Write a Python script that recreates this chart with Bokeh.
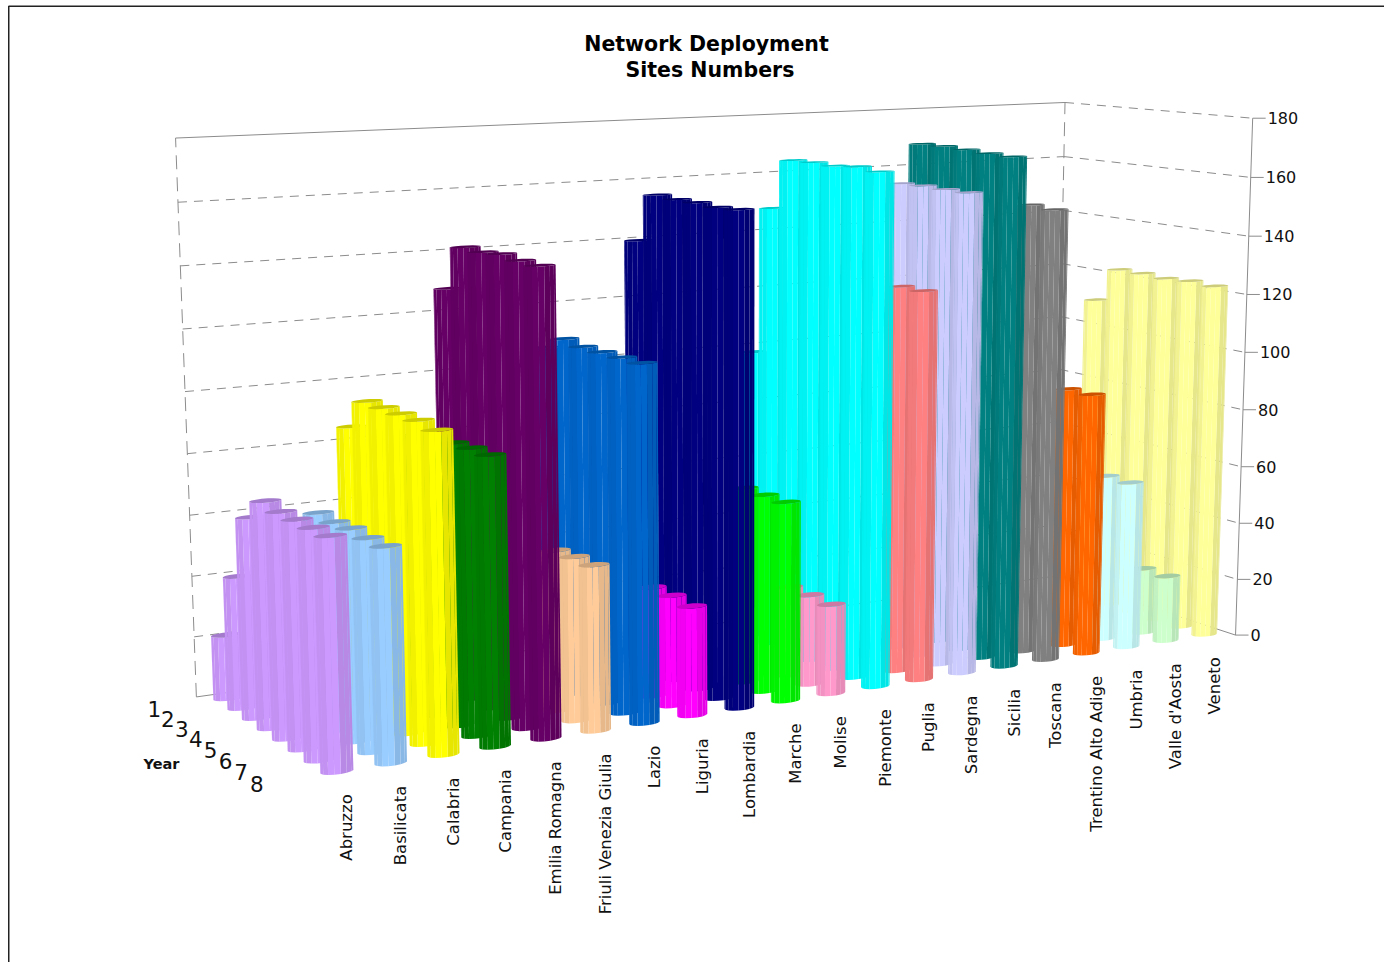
import math
import numpy as np
from bokeh.embed import file_html
from bokeh.resources import INLINE
from bokeh.plotting import figure
from bokeh.models import Range1d, ColumnDataSource
from bokeh.core.properties import value

# ---- data -------------------------------------------------------------
regions = ["Abruzzo", "Basilicata", "Calabria", "Campania", "Emilia Romagna",
           "Friuli Venezia Giulia", "Lazio", "Liguria", "Lombardia", "Marche",
           "Molise", "Piemonte", "Puglia", "Sardegna", "Sicilia", "Toscana",
           "Trentino Alto Adige", "Umbria", "Valle d'Aosta", "Veneto"]
years = [1, 2, 3, 4, 5, 6, 7, 8]
z_ticks = [0, 20, 40, 60, 80, 100, 120, 140, 160, 180]

abruzzo = [21, 43, 64.5, 72, 71, 71, 71, 71]
basilicata = [0, 0, 0, 66.5, 66, 66.5, 66, 66]
calabria = [0, 0, 90, 100, 100, 100, 100, 99]
campania = [0, 0, 0, 88, 89, 89.5, 90, 90]
emilia = [0, 0, 131.5, 146, 145.7, 146.4, 145.7, 145.5]
friuli = [0, 0, 0, 0, 0, 52, 52.5, 52.5]
lazio = [0, 0, 110, 114.5, 113.6, 113.6, 113.6, 113.6]
liguria = [0, 0, 0, 0, 0, 36, 36, 35.3]
lombardia = [0, 0, 143, 159, 158.6, 158.7, 158.3, 158.7]
marche = [0, 0, 0, 0, 0, 65, 65, 65]
molise = [0, 0, 0, 0, 0, 30, 30, 29.6]
piemonte = [0, 100.3, 151, 168, 168.2, 168, 168.7, 168]
puglia = [0, 0, 0, 0, 0, 0, 129, 129]
sardegna = [0, 0, 0, 0, 159.7, 160, 159.8, 159.8]
sicilia = [0, 0, 0, 171.4, 171.5, 171.2, 170.8, 170.6]
toscana = [0, 0, 0, 0, 0, 0, 153, 152.5]
trentino = [0, 0, 0, 0, 0, 0, 89.5, 89.5]
umbria = [0, 0, 0, 0, 0, 0, 57.7, 57.6]
valle = [0, 0, 0, 0, 0, 0, 23, 22.9]
veneto = [0, 0, 110.7, 123.1, 123.1, 122.7, 123.2, 122.8]

series = [abruzzo, basilicata, calabria, campania, emilia, friuli, lazio, liguria,
          lombardia, marche, molise, piemonte, puglia, sardegna, sicilia, toscana,
          trentino, umbria, valle, veneto]
colors = ["#CC99FF", "#99CCFF", "#FFFF00", "#008000", "#660066", "#FFCC99", "#0066CC",
          "#FF00FF", "#000080", "#00FF00", "#FF99CC", "#00FFFF", "#FF8080", "#CCCCFF",
          "#008080", "#808080", "#FF6600", "#CCFFFF", "#CCFFCC", "#FFFF99"]

# ---- camera: least-squares fit on the box and row positions -----------
R0, R1, Y0, Y1 = -0.5, 19.5, 0.5, 8.5
calib = [
    (R0, Y0, 0, 196, 698), (R0, Y0, 100, 183, 390), (R0, Y0, 180, 176, 138),
    (R1, Y0, 180, 1064, 101), (R1, Y0, 160, 1064, 155), (R1, Y0, 140, 1062, 212),
    (R1, Y1, 0, 1235, 634), (R1, Y1, 100, 1245, 352), (R1, Y1, 180, 1252, 118),
    (0, 8, 0, 336, 771), (4, 8, 0, 546, 737), (8, 8, 0, 738, 708), (12, 8, 0, 919, 678),
    (16, 8, 0, 1085, 652), (19, 8, 0, 1204, 634), (0, 1, 0, 229, 696), (0, 4, 0, 272, 728),
]
rows, rhs = [], []
for r, y, z, u, v in calib:
    X, Y, Z = r / 19, y / 8, z / 180
    rows.append([X, Y, Z, 1, 0, 0, 0, 0, -u * X, -u * Y, -u * Z]); rhs.append(u)
    rows.append([0, 0, 0, 0, X, Y, Z, 1, -v * X, -v * Y, -v * Z]); rhs.append(v)
cam = np.linalg.lstsq(np.array(rows, float), np.array(rhs, float), rcond=None)[0]


def proj(r, y, z):
    X, Y, Z = np.asarray(r, float) / 19, np.asarray(y, float) / 8, np.asarray(z, float) / 180
    w = cam[8] * X + cam[9] * Y + cam[10] * Z + 1
    return ((cam[0] * X + cam[1] * Y + cam[2] * Z + cam[3]) / w,
            (cam[4] * X + cam[5] * Y + cam[6] * Z + cam[7]) / w)


def shade(hex_color, f):
    c = [int(hex_color[i:i + 2], 16) for i in (1, 3, 5)]
    return "#%02X%02X%02X" % tuple(int(round(v * f)) for v in c)


# ---- figure ------------------------------------------------------------
W, H = 1384, 962
p = figure(width=W, height=H, output_backend="svg", toolbar_location=None,
           x_range=Range1d(0, W), y_range=Range1d(H, 0),
           min_border=0, outline_line_color=None)
p.axis.visible = False
p.grid.visible = False

FONT = "DejaVu Sans"
GRID = "#8C8C8C"

# frame
p.line([8.25, 8.25, W], [H, 5.75, 5.75], line_color="#222222", line_width=1.5)


def wall(a, b, **kw):
    x, y = proj([a[0], b[0]], [a[1], b[1]], [a[2], b[2]])
    p.line(list(x), list(y), line_color=GRID, line_width=1, **kw)


for z in z_ticks[1:-1]:
    wall((R0, Y0, z), (R1, Y0, z), line_dash="9 7")
for z in z_ticks[1:]:
    wall((R1, Y0, z), (R1, Y1, z), line_dash="9 7")
wall((R0, Y0, 180), (R1, Y0, 180))
wall((R0, Y0, 0), (R0, Y0, 180), line_dash="14 8")
wall((R1, Y0, 0), (R1, Y0, 180), line_dash="14 8")
wall((R0, Y0, 0), (R1, Y0, 0))
wall((R1, Y0, 0), (R1, Y1, 0))
wall((R1, Y1, 0), (R1, Y1, 180))

# ---- bars --------------------------------------------------------------
RAD_R, RAD_Y, NSEG = 0.30, 0.24, 16
xs, ys, fills = [], [], []
thetas = [2 * math.pi * i / NSEG for i in range(NSEG + 1)]
for ri in range(len(regions) - 1, -1, -1):
    for yi, yr in enumerate(years):
        val = series[ri][yi]
        if not val:
            continue
        rr = [ri + RAD_R * math.cos(t) for t in thetas]
        yy = [yr + RAD_Y * math.sin(t) for t in thetas]
        bx, by = proj(rr, yy, [0] * len(rr))
        tx, ty = proj(rr, yy, [val] * len(rr))
        cx, half = bx.mean(), (bx.max() - bx.min()) / 2
        for i in range(NSEG):
            qx = [bx[i], bx[i + 1], tx[i + 1], tx[i]]
            qy = [by[i], by[i + 1], ty[i + 1], ty[i]]
            area = sum(qx[k] * qy[(k + 1) % 4] - qx[(k + 1) % 4] * qy[k] for k in range(4))
            if area <= 0:
                continue
            t = ((bx[i] + bx[i + 1]) / 2 - cx) / half
            f = 0.9 if t > 0.35 else (0.95 if t < -0.6 else 1.0)
            xs.append(qx); ys.append(qy); fills.append(shade(colors[ri], f))
        xs.append(list(tx)); ys.append(list(ty)); fills.append(shade(colors[ri], 0.8))
p.patches("xs", "ys", fill_color="fills", line_color=None,
          source=ColumnDataSource(dict(xs=xs, ys=ys, fills=fills)))

# ---- z axis ticks and labels -------------------------------------------
for z in z_ticks:
    x, y = proj(R1, Y1, z)
    p.line([x, x + 13], [y, y], line_color=GRID, line_width=1)
    p.text([x + 15], [y], text=[str(z)], text_font=value(FONT), text_font_size="16px",
           text_align="left", text_baseline="middle", text_color="#111111")

# ---- year labels -------------------------------------------------------
lx, ly = proj([-1.45] * len(years), years, [0] * len(years))
p.text(list(lx), list(ly), text=[str(v) for v in years], text_font=value(FONT),
       text_font_size="21.5px", text_align="center", text_baseline="middle", text_color="#111111")
p.text([161], [763], text=["Year"], text_font=value(FONT), text_font_size="14.5px",
       text_font_style="bold", text_align="center", text_baseline="middle", text_color="#111111")

# ---- region labels -----------------------------------------------------
gx, gy = proj(list(range(len(regions))), [8] * len(regions), [0] * len(regions))
p.text(list(gx), list(gy), text=regions, angle=math.pi / 2, x_offset=10, y_offset=23,
       text_font=value(FONT), text_font_size="16.5px", text_align="right",
       text_baseline="middle", text_color="#111111")

# ---- title -------------------------------------------------------------
p.text([706, 713], [43.5, 69.5], text=["Network Deployment", "Sites  Numbers"],
       text_font=value(FONT), text_font_size="20.5px", text_font_style="bold",
       text_align="center", text_baseline="middle", text_color="#000000")

open("out.html", "w").write(file_html(p, INLINE))
